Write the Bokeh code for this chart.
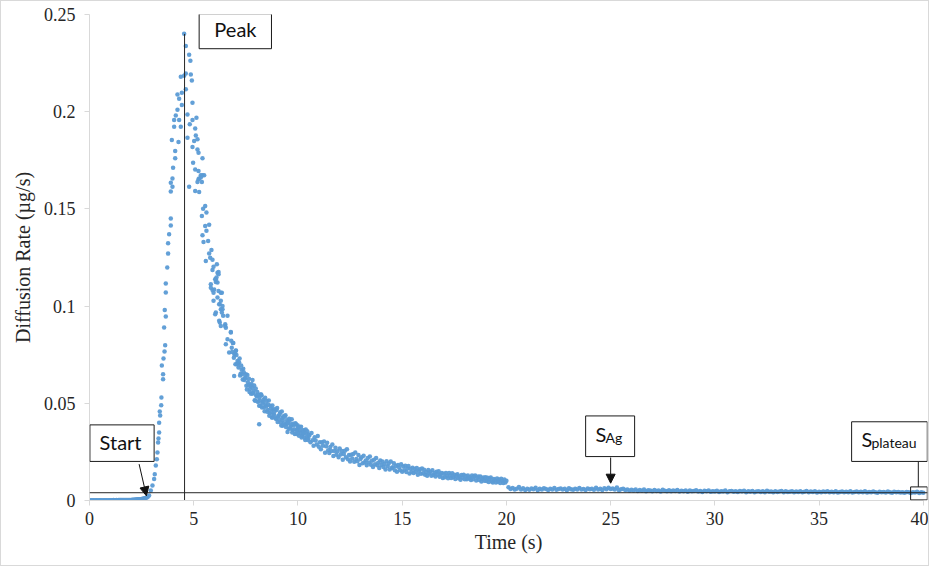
import numpy as np
from bokeh.plotting import figure
from bokeh.models import FixedTicker, Span, BoxAnnotation, Label, Arrow, NormalHead, Range1d
from bokeh.embed import file_html
from bokeh.resources import INLINE

# ---------------- data (diffusion rate in units of 1e-3 µg/s) ----------------
# baseline before release, sampled every 0.05 s from 0 s
base_t0, base_dt = 0.0, 0.05
base_y = [0.0, 0.1, 0.0, 0.1, 0.1, 0.0, 0.1, 0.1, 0.0, 0.1,
          0.1, 0.1, 0.0, 0.1, 0.1, 0.1, 0.1, 0.0, 0.1, 0.1,
          0.1, 0.1, 0.1, 0.2, 0.1, 0.1, 0.2, 0.1, 0.2, 0.2,
          0.2, 0.2, 0.2, 0.2, 0.3, 0.2, 0.3, 0.3, 0.3, 0.3,
          0.3, 0.4, 0.4, 0.4, 0.5, 0.5, 0.6, 0.6, 0.7, 0.7,
          0.8, 0.9, 1.0, 1.1, 1.3, 1.5, 1.9]

# rising edge and peak (read point by point)
rise_t = [2.86, 2.94, 3.02, 3.10, 3.13, 3.18, 3.23, 3.26, 3.29, 3.31,
          3.34, 3.34, 3.37, 3.39, 3.44, 3.45, 3.47, 3.53, 3.53, 3.55,
          3.58, 3.60, 3.61, 3.63, 3.66, 3.66, 3.66, 3.73, 3.77, 3.77,
          3.82, 3.90, 3.90, 3.90, 3.90, 3.95, 3.98, 3.98, 4.01, 4.06,
          4.06, 4.11, 4.11, 4.14, 4.22, 4.22, 4.27, 4.30, 4.30, 4.38,
          4.38, 4.43, 4.43, 4.54, 4.54, 4.62, 4.62, 4.62, 4.78, 4.84,
          4.86, 4.91]
rise_y = [2.6, 5.1, 7.7, 11.0, 13.5, 18.0, 21.2, 24.7, 29.8, 31.9,
          35.0, 40.0, 45.8, 43.7, 49.0, 53.0, 69.4, 62.4, 65.0, 73.0,
          89.0, 76.6, 98.0, 79.8, 94.6, 107.0, 111.6, 119.8, 127.0, 132.3,
          136.9, 141.5, 145.1, 158.9, 163.5, 185.5, 161.4, 165.6, 171.2, 192.3,
          195.7, 176.0, 179.8, 198.1, 201.0, 208.9, 184.4, 206.7, 195.7, 218.0,
          192.3, 203.5, 209.8, 218.5, 240.1, 211.5, 219.7, 233.8, 229.3, 226.2,
          219.2, 216.0]

# falling edge after the peak (read point by point)
fall_t = [4.70, 4.70, 4.78, 4.81, 4.94, 4.94, 4.94, 4.97, 5.02, 5.07,
          5.07, 5.07, 5.10, 5.13, 5.18, 5.18, 5.18, 5.23, 5.23, 5.23,
          5.26, 5.26, 5.34, 5.34, 5.39, 5.39, 5.42, 5.42, 5.42, 5.45,
          5.47, 5.50, 5.55, 5.55, 5.58, 5.61, 5.61, 5.69, 5.74, 5.74,
          5.79, 5.82, 5.82, 5.85, 5.90, 5.90, 5.90, 5.95, 5.95, 5.95,
          5.98, 6.03, 6.03, 6.06, 6.06, 6.06, 6.09, 6.11, 6.14, 6.14,
          6.14, 6.19, 6.19, 6.19, 6.22, 6.22, 6.25, 6.25, 6.30, 6.30,
          6.30, 6.30, 6.35, 6.35, 6.38, 6.38, 6.41, 6.51, 6.51, 6.54,
          6.54, 6.62, 6.62, 6.70, 6.78, 6.78, 6.94, 7.02, 7.82, 8.14,
          8.14, 8.22, 8.78, 9.26, 9.50, 9.98]
fall_y = [198.6, 186.6, 161.4, 193.5, 204.6, 195.7, 181.9, 173.8, 184.9, 191.3,
          170.3, 159.2, 187.8, 196.9, 185.8, 180.6, 163.8, 178.9, 169.5, 165.2,
          165.6, 158.7, 167.3, 166.1, 163.8, 146.4, 176.0, 167.3, 136.4, 150.1,
          133.0, 167.3, 151.5, 141.2, 123.2, 148.1, 138.7, 133.5, 141.8, 127.1,
          124.9, 111.2, 109.5, 128.9, 123.8, 118.6, 108.3, 120.2, 106.9, 102.7,
          108.6, 113.8, 95.8, 112.4, 113.8, 96.7, 114.7, 121.5, 117.2, 112.1,
          104.4, 117.6, 116.4, 107.8, 92.4, 100.9, 100.9, 91.5, 102.7, 98.4,
          89.8, 106.9, 106.9, 96.7, 100.1, 98.4, 95.0, 90.6, 89.8, 88.9,
          80.4, 95.0, 82.9, 76.1, 86.7, 86.4, 64.1, 77.0, 62.0, 39.2,
          48.7, 54.7, 42.7, 38.4, 35.3, 38.7]

# decay, two interleaved sample sets every 0.05 s (from 6.800 s and 6.825 s)
decay_a_t0, decay_b_t0, decay_dt = 6.800, 6.825, 0.05
decay_a = [82.2, 76.4, 81.0, 75.1, 70.1, 74.8, 71.8, 68.4, 73.0, 65.2,
           67.3, 62.2, 66.0, 62.9, 64.9, 57.1, 60.8, 62.6, 57.3, 54.9,
           58.3, 55.3, 59.2, 51.3, 54.1, 55.8, 50.9, 52.9, 48.7, 54.1,
           50.0, 51.9, 45.9, 49.3, 51.2, 46.6, 51.5, 44.9, 47.3, 42.7,
           47.0, 44.3, 47.0, 41.9, 47.6, 43.3, 41.6, 45.4, 38.6, 42.5,
           43.3, 39.0, 43.8, 39.2, 40.2, 36.9, 41.2, 38.1, 41.8, 36.2,
           38.6, 34.2, 39.3, 36.0, 37.3, 33.3, 36.0, 37.9, 33.3, 34.4,
           36.1, 31.1, 34.5, 35.6, 32.0]
decay_b = [78.6, 81.0, 73.4, 75.7, 77.1, 70.1, 70.5, 71.1, 64.3, 69.4,
           65.0, 67.8, 62.0, 63.0, 59.0, 64.5, 59.3, 55.8, 59.2, 59.9,
           55.1, 56.5, 51.6, 57.6, 53.5, 50.8, 54.3, 51.3, 54.2, 47.8,
           50.8, 48.0, 52.8, 48.5, 45.7, 49.3, 43.6, 48.8, 45.6, 48.9,
           44.1, 45.8, 42.5, 46.6, 40.4, 43.6, 44.5, 40.1, 45.8, 41.4,
           39.8, 43.1, 37.8, 41.3, 39.7, 42.0, 37.1, 39.2, 35.0, 39.5,
           36.5, 39.8, 34.2, 36.5, 34.7, 37.9, 34.8, 32.4, 36.1, 34.6,
           32.3, 36.5, 32.7, 31.1, 33.9]

# tail, sampled every 0.05 s from 10.55 s
tail_t0, tail_dt = 10.55, 0.05
tail_y = [33.6, 30.0, 34.7, 31.0, 28.1, 32.5, 30.8, 28.8, 33.2, 27.7,
          29.9, 26.4, 30.0, 28.1, 30.3, 24.5, 27.9, 29.7, 25.9, 24.4,
          27.5, 25.5, 28.8, 22.9, 25.5, 27.1, 23.5, 25.3, 22.2, 26.8,
          23.7, 25.5, 20.9, 23.9, 25.6, 22.2, 26.3, 21.2, 23.4, 20.0,
          23.5, 21.6, 23.9, 19.9, 24.7, 21.4, 20.2, 23.4, 18.2, 21.4,
          22.3, 19.2, 23.0, 19.6, 20.6, 18.1, 21.8, 19.5, 22.6, 18.4,
          20.5, 17.2, 20.9, 18.7, 21.8, 18.1, 19.4, 16.7, 20.6, 18.3,
          20.1, 17.2, 18.8, 15.9, 20.2, 17.6, 18.9, 15.9, 20.0, 16.7,
          17.1, 19.2, 15.6, 17.8, 14.8, 18.2, 17.0, 15.6, 18.6, 14.8,
          17.5, 15.5, 17.9, 14.6, 16.4, 17.7, 13.9, 16.3, 14.6, 16.9,
          14.1, 16.2, 14.8, 16.7, 13.3, 15.2, 16.1, 13.8, 16.5, 14.0,
          15.8, 13.3, 14.7, 12.7, 15.7, 13.9, 14.8, 12.7, 15.6, 13.1,
          14.2, 12.3, 14.8, 13.2, 15.0, 12.2, 13.4, 14.2, 11.6, 13.7,
          12.0, 14.2, 12.6, 11.5, 14.1, 13.0, 11.6, 14.0, 12.0, 13.3,
          11.1, 12.9, 13.5, 11.4, 12.3, 10.7, 13.1, 11.7, 13.3, 10.9,
          12.6, 10.9, 12.9, 11.3, 11.9, 10.5, 12.9, 10.9, 12.3, 12.9,
          10.3, 11.7, 12.3, 10.5, 12.4, 9.8, 11.2, 11.8, 10.1, 12.0,
          10.0, 11.7, 9.5, 11.1, 11.8, 9.8, 9.2, 11.1, 10.4, 9.3,
          11.3, 9.6, 10.8, 9.0, 11.2, 10.0, 9.0, 10.8, 9.3, 10.2]

# plateau, sampled every 0.1 s from 20.1 s
plat_t0, plat_dt = 20.1, 0.1
plat_y = [6.8, 5.9, 6.4, 5.6, 6.1, 6.9, 5.7, 6.3, 5.4, 6.0,
          5.5, 6.2, 5.8, 6.5, 5.3, 6.0, 5.6, 6.3, 5.9, 5.4,
          6.1, 5.7, 6.4, 5.5, 5.9, 6.2, 5.6, 6.0, 5.3, 6.3,
          5.8, 5.5, 6.1, 5.7, 6.4, 5.6, 5.9, 5.4, 6.2, 5.8,
          6.0, 5.5, 6.5, 5.7, 6.1, 5.4, 6.3, 5.8, 6.6, 5.9,
          6.2, 5.6, 6.7, 5.3, 5.8, 6.0, 5.4, 5.7, 5.1, 5.5,
          5.2, 5.6, 4.9, 5.4, 5.0, 5.7, 4.8, 5.3, 5.1, 4.7,
          5.4, 4.9, 5.2, 4.6, 5.5, 5.0, 4.8, 5.3, 4.7, 5.1,
          4.9, 5.4, 4.6, 5.0, 4.8, 5.2, 4.5, 5.1, 4.7, 4.9,
          5.3, 4.6, 4.9, 4.4, 5.0, 4.7, 5.2, 4.5, 4.8, 4.6,
          5.0, 4.4, 4.8, 4.6, 5.1, 4.3, 4.7, 4.9, 4.5, 4.8,
          4.4, 4.9, 4.6, 5.0, 4.3, 4.7, 4.5, 4.9, 4.2, 4.6,
          4.8, 4.4, 4.7, 4.3, 5.0, 4.5, 4.6, 4.2, 4.8, 4.4,
          4.6, 4.9, 4.3, 4.7, 4.4, 4.5, 4.8, 4.2, 4.6, 4.4,
          4.7, 4.3, 4.5, 4.9, 4.2, 4.6, 4.4, 4.8, 4.1, 4.5,
          4.3, 4.6, 4.4, 4.8, 4.2, 4.5, 4.3, 4.7, 4.1, 4.4,
          4.6, 4.2, 4.5, 4.3, 4.8, 4.1, 4.4, 4.6, 4.2, 4.5,
          4.3, 4.7, 4.1, 4.4, 4.2, 4.6, 4.3, 4.0, 4.5, 4.2,
          4.4, 4.1, 4.6, 4.3, 4.0, 4.5, 4.2, 4.4, 4.1, 4.3,
          4.0, 4.4, 4.2, 3.9, 4.3, 4.1, 4.5, 3.9, 4.2, 4.0]

x_ticks = [0, 5, 10, 15, 20, 25, 30, 35, 40]
y_ticks = [0, 0.05, 0.1, 0.15, 0.2, 0.25]
y_tick_labels = ["0", "0.05", "0.1", "0.15", "0.2", "0.25"]

peak_time, peak_value = 4.56, 0.240
plateau_level = 0.004

# ---------------- assemble series ----------------
def grid(t0, dt, ys):
    return [round(t0 + dt * i, 3) for i in range(len(ys))]

t_all = (grid(base_t0, base_dt, base_y) + rise_t + fall_t +
         grid(decay_a_t0, decay_dt, decay_a) + grid(decay_b_t0, decay_dt, decay_b) +
         grid(tail_t0, tail_dt, tail_y) + grid(plat_t0, plat_dt, plat_y))
y_all = [v * 1e-3 for v in (base_y + rise_y + fall_y + decay_a + decay_b +
                            tail_y + plat_y)]
assert len(t_all) == len(y_all)
assert len(rise_t) == len(rise_y) and len(fall_t) == len(fall_y)

# ---------------- figure ----------------
p = figure(width=929, height=566, output_backend="svg", toolbar_location=None,
           x_range=Range1d(0, 40.2), y_range=Range1d(0, 0.25),
           min_border_left=88, min_border_right=3, min_border_top=13,
           min_border_bottom=67)
p.styles = {"border": "1px solid #d9d9d9"}
p.outline_line_color = None
p.xgrid.visible = False
p.ygrid.visible = False
p.background_fill_color = "white"
p.border_fill_color = "white"

p.scatter(t_all, y_all, marker="circle", size=4.5, fill_color="#5B9BD5",
          line_color=None, fill_alpha=0.95)

# reference lines
p.segment(x0=[peak_time], y0=[peak_value], x1=[peak_time], y1=[-0.002],
          line_color="#262626", line_width=1)
p.add_layout(Span(location=plateau_level, dimension="width",
                  line_color="#262626", line_width=1))

# axes
for ax in (p.xaxis[0], p.yaxis[0]):
    ax.axis_line_color = "#d9d9d9"
    ax.major_tick_line_color = "#d9d9d9"
    ax.major_tick_out = 5
    ax.major_tick_in = 0
    ax.minor_tick_line_color = None
    ax.major_label_text_font = "Liberation Serif"
    ax.major_label_text_font_size = "18px"
    ax.major_label_text_color = "#262626"
    ax.axis_label_text_font = "Liberation Serif"
    ax.axis_label_text_font_size = "20px"
    ax.axis_label_text_font_style = "normal"
    ax.axis_label_text_color = "#262626"

p.xaxis[0].ticker = FixedTicker(ticks=x_ticks)
p.xaxis[0].bounds = (0, 40)
p.xaxis[0].axis_label = "Time (s)"
p.xaxis[0].major_label_standoff = 6
p.xaxis[0].axis_label_standoff = 3

p.yaxis[0].ticker = FixedTicker(ticks=y_ticks)
p.yaxis[0].major_label_overrides = {t: s for t, s in zip(y_ticks, y_tick_labels)}
p.yaxis[0].axis_label = "Diffusion Rate (µg/s)"
p.yaxis[0].major_label_standoff = 9
p.yaxis[0].axis_label_standoff = 7

# annotation boxes
def box(l, r, t, b, fill=True):
    p.add_layout(BoxAnnotation(left=l, right=r, top=t, bottom=b,
                               fill_color="white", fill_alpha=1.0 if fill else 0.0,
                               line_color="#1a1a1a", line_alpha=1.0, line_width=1))

LIFT = 0.0046  # text baseline correction (about 9 px)

def lab(x, y, s, size="20px", align="center"):
    p.add_layout(Label(x=x, y=y + LIFT, text=s, text_font="Lato",
                       text_font_size=size, text_color="#111111",
                       text_align=align, text_baseline="alphabetic"))

head = dict(size=9, fill_color="#111111", line_color="#111111")

box(5.26, 8.73, 0.2503, 0.2324)
lab(7.00, 0.2380, "Peak")

box(0.02, 3.10, 0.0389, 0.0201)
lab(1.49, 0.0257, "Start")
p.add_layout(Arrow(x_start=2.38, y_start=0.0187, x_end=2.73, y_end=0.0024,
                   line_color="#111111", line_width=1, end=NormalHead(**head)))

box(23.80, 26.15, 0.0435, 0.0226)
lab(24.27, 0.0298, "S", align="left")
lab(24.75, 0.0278, "Ag", size="14px", align="left")
p.add_layout(Arrow(x_start=25.0, y_start=0.0221, x_end=25.0, y_end=0.0089,
                   line_color="#111111", line_width=1, end=NormalHead(**head)))

box(36.56, 40.19, 0.0405, 0.0201)
lab(37.03, 0.0272, "S", align="left")
lab(37.51, 0.0252, "plateau", size="14px", align="left")
p.segment(x0=[39.76], y0=[0.0201], x1=[39.76], y1=[0.0070],
          line_color="#1a1a1a", line_width=1)
box(39.39, 40.19, 0.0070, 0.0003, fill=False)

open("out.html", "w").write(file_html(p, INLINE))
